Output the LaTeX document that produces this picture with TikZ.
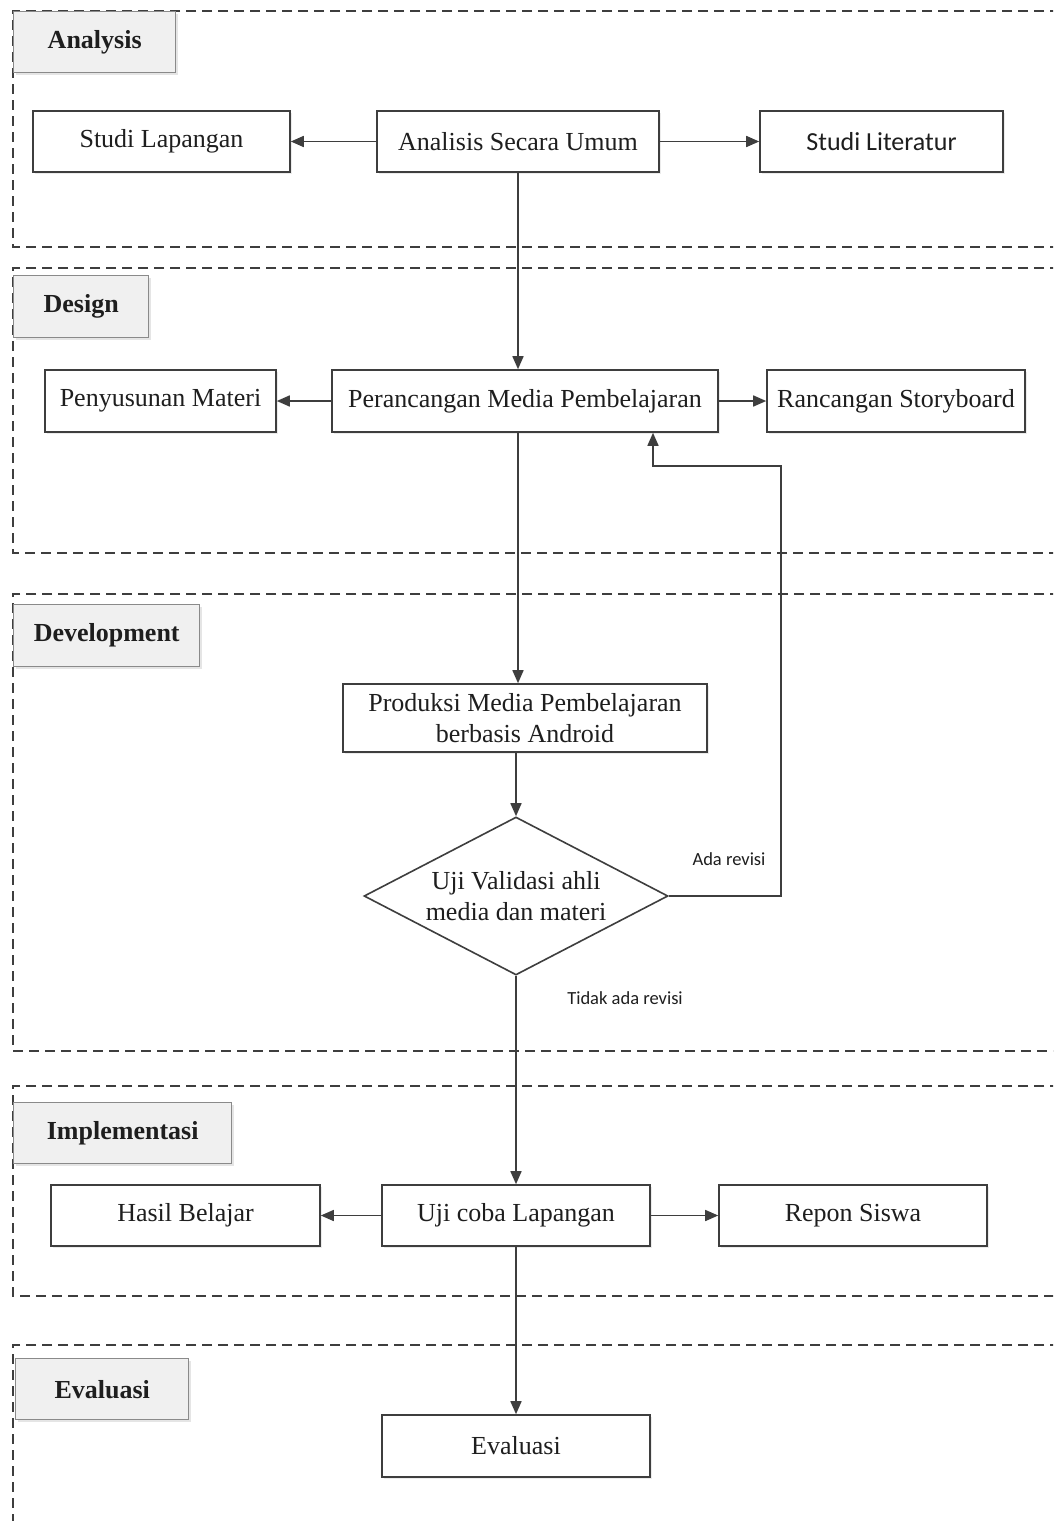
\documentclass[tikz,border=0pt]{standalone}
\usepackage{fontspec}
\setmainfont{Liberation Serif}
\newfontfamily\calib{Carlito}
\usetikzlibrary{shapes.geometric,arrows.meta,shadows}
\definecolor{ln}{HTML}{3E3E3E}
\definecolor{lblfill}{HTML}{F0F0F0}
\definecolor{lbldraw}{HTML}{8A8A8A}
\definecolor{txt}{HTML}{1E1E1E}
\begin{document}
\begin{tikzpicture}[x=1pt,y=-1pt,
  sect/.style={draw=ln,line width=1.4pt,dash pattern=on 10pt off 6pt},
  lbl/.style={draw=lbldraw,fill=lblfill,line width=1.4pt,inner sep=0pt,anchor=north west,
    font=\fontsize{26}{30}\selectfont\bfseries,text=txt,
    drop shadow={shadow xshift=2pt,shadow yshift=-2pt,fill=black!10,opacity=1}},
  box/.style={draw=ln,fill=white,line width=1.6pt,inner sep=0pt,
    font=\fontsize{26}{31}\selectfont,text=txt,align=center,
    drop shadow={shadow xshift=2pt,shadow yshift=-2pt,fill=black!8,opacity=1}},
  dia/.style={diamond,draw=ln,fill=white,line width=1.6pt,inner sep=0pt,
    font=\fontsize{26}{31}\selectfont,text=txt,align=center},
  arr/.style={draw=ln,line width=1.6pt,-{Triangle[length=13pt,width=11pt]}},
  cnote/.style={font=\calib\fontsize{18.5}{22}\selectfont,text=txt}
]
\useasboundingbox (0,0) rectangle (1053,1521);
\fill[white] (0,0) rectangle (1053,1521);
\begin{scope}
\clip (0,0) rectangle (1053,1521);
% sections
\draw[sect] (1060,11) -- (13,11) -- (13,247) -- (1060,247);
\draw[sect] (1060,268) -- (13,268) -- (13,553) -- (1060,553);
\draw[sect] (1060,594) -- (13,594) -- (13,1051) -- (1060,1051);
\draw[sect] (1060,1086) -- (13,1086) -- (13,1296) -- (1060,1296);
\draw[sect] (1060,1345) -- (13,1345) -- (13,1530);
\end{scope}
% section labels
\node[lbl,minimum width=162pt,minimum height=61pt] (lA) at (13,11) {Analysis};
\node[lbl,minimum width=135pt,minimum height=62pt] (lD) at (13,275) {Design};
\node[lbl,minimum width=186pt,minimum height=62pt] (lDev) at (13,604) {Development};
\node[lbl,minimum width=218pt,minimum height=61pt] (lI) at (13,1102) {Implementasi};
\node[lbl,minimum width=173pt,minimum height=61pt] (lE) at (15,1358) {Evaluasi};
% process boxes
\node[box,minimum width=257pt,minimum height=61pt] (sl) at (161.5,141.5) {Studi Lapangan};
\node[box,minimum width=282pt,minimum height=61pt] (aum) at (518,141.5) {Analisis Secara Umum};
\node[box,minimum width=243pt,minimum height=61pt,font=\calib\fontsize{26}{31}\selectfont] (slit) at (881.5,141.5) {Studi Literatur};
\node[box,minimum width=231pt,minimum height=62pt] (pm) at (160.5,401) {Penyusunan Materi};
\node[box,minimum width=386pt,minimum height=62pt] (prm) at (525,401) {Perancangan Media Pembelajaran};
\node[box,minimum width=258pt,minimum height=62pt] (rs) at (896,401) {Rancangan Storyboard};
\node[box,minimum width=364pt,minimum height=68pt] (prod) at (525,718) {Produksi Media Pembelajaran\\berbasis Android};
\node[dia,minimum width=304pt,minimum height=158pt,aspect=1.92] (uv) at (516,896) {Uji Validasi ahli\\media dan materi};
\node[box,minimum width=269pt,minimum height=61pt] (hb) at (185.5,1215.5) {Hasil Belajar};
\node[box,minimum width=268pt,minimum height=61pt] (ucl) at (516,1215.5) {Uji coba Lapangan};
\node[box,minimum width=268pt,minimum height=61pt] (rsw) at (853,1215.5) {Repon Siswa};
\node[box,minimum width=268pt,minimum height=62pt] (ev) at (516,1446) {Evaluasi};
% notes
\node[cnote] (ada) at (729,859) {Ada revisi};
\node[cnote] (tdk) at (625,998) {Tidak ada revisi};
% connectors
\draw[arr] (aum.west) -- (sl.east);
\draw[arr] (aum.east) -- (slit.west);
\draw[arr] (aum.south) -- (aum.south |- prm.north);
\draw[arr] (prm.west) -- (pm.east);
\draw[arr] (prm.east) -- (rs.west);
\draw[arr] (aum.south |- prm.south) -- (aum.south |- prod.north);
\draw[arr] (uv.north |- prod.south) -- (uv.north);
\coordinate (fb) at (781,466);
\coordinate (fbx) at (653,466);
\draw[arr] (uv.east) -| (fb) -- (fbx) -- (fbx |- prm.south);
\draw[arr] (uv.south) -- (ucl.north);
\draw[arr] (ucl.west) -- (hb.east);
\draw[arr] (ucl.east) -- (rsw.west);
\draw[arr] (ucl.south) -- (ev.north);
\end{tikzpicture}
\end{document}
